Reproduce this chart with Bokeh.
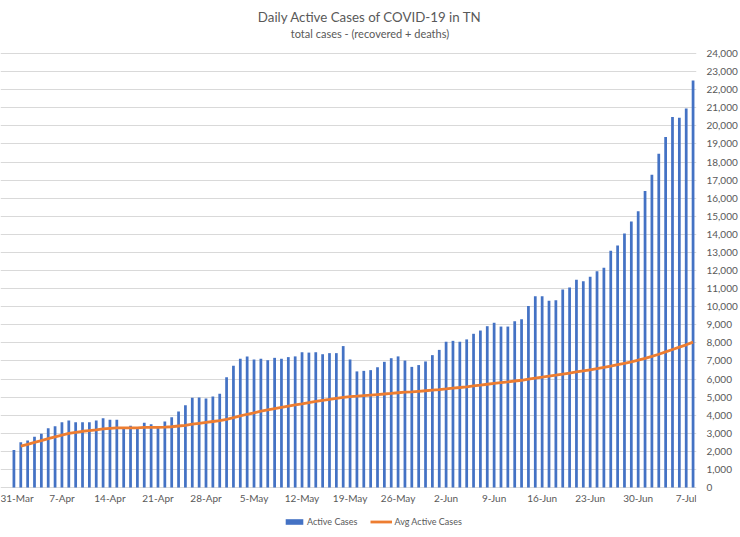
import pandas as pd
from bokeh.plotting import figure
from bokeh.models import (ColumnDataSource, Range1d, FixedTicker, NumeralTickFormatter,
                          Legend, LegendItem, Label)
from bokeh.embed import file_html
from bokeh.resources import INLINE

# ---- data ----
start_date = "2020-03-31"
active_cases = [
    2080, 2500, 2600, 2800, 2970, 3280, 3390, 3610, 3700, 3610,
    3610, 3610, 3700, 3830, 3740, 3740, 3300, 3410, 3300, 3580,
    3500, 3340, 3650, 3890, 4200, 4550, 4960, 4980, 4920, 5030,
    5180, 6100, 6730, 7120, 7250, 7080, 7120, 7040, 7170, 7120,
    7210, 7250, 7480, 7460, 7480, 7370, 7430, 7430, 7820, 7080,
    6420, 6450, 6490, 6650, 6950, 7150, 7250, 7020, 6670, 6770,
    6970, 7320, 7610, 8060, 8110, 8060, 8190, 8500, 8680, 8920,
    9110, 8900, 8900, 9200, 9310, 10030, 10580, 10580, 10330, 10360,
    10950, 11060, 11490, 11410, 11650, 11960, 12150, 13090, 13380, 14050,
    14710, 15270, 16390, 17300, 18460, 19380, 20490, 20450, 20960, 22510,
]
avg_active_cases = [
    None, 2290, 2390, 2500, 2590, 2700, 2800, 2900, 2990, 3050,
    3110, 3150, 3190, 3240, 3270, 3300, 3300, 3300, 3300, 3320,
    3330, 3330, 3340, 3360, 3400, 3440, 3500, 3550, 3600, 3650,
    3700, 3770, 3860, 3960, 4050, 4130, 4220, 4290, 4360, 4430,
    4500, 4570, 4630, 4700, 4760, 4820, 4870, 4930, 4980, 5030,
    5050, 5080, 5110, 5140, 5170, 5200, 5240, 5270, 5290, 5320,
    5350, 5380, 5410, 5450, 5500, 5530, 5570, 5620, 5660, 5710,
    5760, 5800, 5840, 5890, 5930, 5990, 6050, 6100, 6160, 6210,
    6270, 6330, 6390, 6450, 6510, 6570, 6640, 6710, 6790, 6870,
    6950, 7040, 7140, 7250, 7370, 7500, 7630, 7760, 7890, 8040,
]
tick_positions = [0, 7, 14, 21, 28, 35, 42, 49, 56, 63, 70, 77, 84, 91, 98]
tick_labels = ["31-Mar", "7-Apr", "14-Apr", "21-Apr", "28-Apr", "5-May", "12-May",
               "19-May", "26-May", "2-Jun", "9-Jun", "16-Jun", "23-Jun", "30-Jun", "7-Jul"]
y_ticks = list(range(0, 24001, 1000))
title_text = "Daily Active Cases of COVID-19 in TN"
subtitle_text = "total cases - (recovered + deaths)"

dates = pd.date_range(start_date, periods=len(active_cases), freq="D")
src = ColumnDataSource(dict(
    x=list(range(len(active_cases))),
    date=[d.strftime("%d-%b") for d in dates],
    active=active_cases,
    avg=[float("nan") if v is None else v for v in avg_active_cases],
))

FONT = "Lato"
GRAY = "#595959"

# frame spans the full canvas height; 0 sits at 487px, 24,000 at 53px
PX_PER_UNIT = (487 - 53) / 24000.0
y_lo = -(537 - 487) / PX_PER_UNIT
y_hi = 24000 + 53 / PX_PER_UNIT
# frame spans from x=0 to 697px; bars occupy 10..697px
PX_PER_DAY = (697 - 10) / len(active_cases)
x_lo = -0.5 - 10 / PX_PER_DAY
x_hi = len(active_cases) - 0.5

p = figure(width=740, height=537, output_backend="svg", toolbar_location=None,
           x_range=Range1d(x_lo, x_hi), y_range=Range1d(y_lo, y_hi),
           y_axis_location="right",
           min_border_left=0, min_border_right=43, min_border_top=0, min_border_bottom=0)
p.outline_line_color = None
p.background_fill_color = "white"
p.border_fill_color = "white"

bars = p.vbar(x="x", top="active", bottom=0, width=0.4, source=src,
              fill_color="#4472C4", line_color=None)
line = p.line(x="x", y="avg", source=src, line_color="#ED7D31", line_width=2.8)

# axes
xa = p.xaxis[0]
xa.fixed_location = 0
xa.ticker = FixedTicker(ticks=tick_positions)
xa.major_label_overrides = {t: l for t, l in zip(tick_positions, tick_labels)}
xa.axis_line_color = None
xa.major_tick_line_color = None
xa.minor_tick_line_color = None
xa.major_label_text_font = FONT
xa.major_label_text_font_size = "10px"
xa.major_label_text_color = GRAY
xa.major_label_standoff = -2

ya = p.yaxis[0]
ya.ticker = FixedTicker(ticks=y_ticks)
ya.formatter = NumeralTickFormatter(format="0,0")
ya.axis_line_color = None
ya.major_tick_line_color = None
ya.minor_tick_line_color = None
ya.major_label_text_font = FONT
ya.major_label_text_font_size = "10px"
ya.major_label_text_color = GRAY
ya.major_label_standoff = 4

p.xgrid.grid_line_color = None
p.ygrid.ticker = FixedTicker(ticks=y_ticks)
p.ygrid.grid_line_color = "#D9D9D9"
p.ygrid.grid_line_width = 1

# titles (centred on the whole chart)
x_mid = x_lo + 370 / PX_PER_DAY
p.add_layout(Label(x=x_mid, y=24000 + (53 - 16.7) / PX_PER_UNIT, text=title_text,
                   text_align="center", text_baseline="middle",
                   text_font=FONT, text_font_size="13.3px", text_color=GRAY))
p.add_layout(Label(x=x_mid, y=24000 + (53 - 33.3) / PX_PER_UNIT, text=subtitle_text,
                   text_align="center", text_baseline="middle",
                   text_font=FONT, text_font_size="11px", text_color=GRAY))

legend = Legend(items=[LegendItem(label="Active Cases", renderers=[bars]),
                       LegendItem(label="Avg Active Cases", renderers=[line])],
                orientation="horizontal", location=(283, 10),
                label_text_font=FONT, label_text_font_size="9px",
                label_text_color=GRAY, glyph_width=22, glyph_height=7,
                label_height=12, label_standoff=2, spacing=13,
                padding=0, margin=0, border_line_color=None,
                background_fill_alpha=0)
p.add_layout(legend, "center")

open("out.html", "w").write(file_html(p, INLINE))
